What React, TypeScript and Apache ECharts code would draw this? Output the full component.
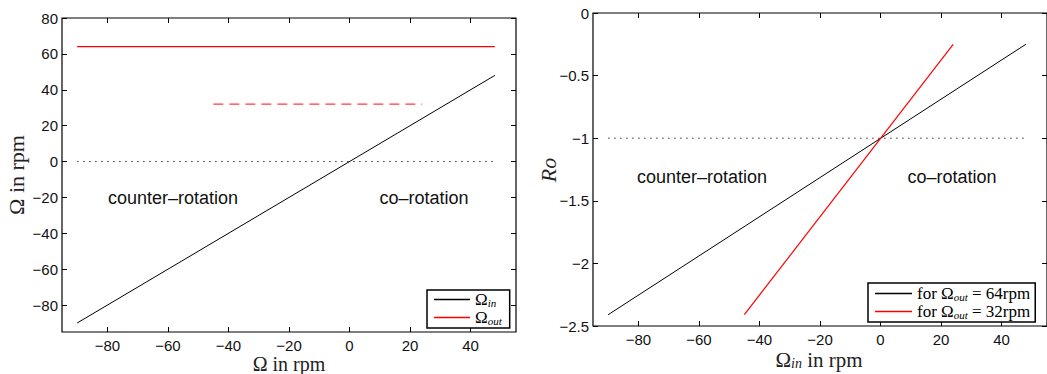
import React, { useEffect, useRef } from "react";
import * as echarts from "echarts";

// ---------- data ----------
const xTickValues = [-80, -60, -40, -20, 0, 20, 40];
const leftYTickValues = [-80, -60, -40, -20, 0, 20, 40, 60, 80];
const rightYTickValues = [-2.5, -2, -1.5, -1, -0.5, 0];

// Ω_in sweep (full range for Ω_out = 64 rpm, half range for Ω_out = 32 rpm)
const omegaInFull = [-90, 48];
const omegaInHalf = [-45, 24];

// left panel
const omegaInLine = [-90, 48];
const omegaOut64 = [64, 64];
const omegaOut32 = [32, 32];
const zeroRef = [0, 0];

// right panel
const ro64 = [-2.41, -0.25];
const ro32 = [-2.41, -0.25];
const roRef = [-1, -1];

// ---------- helpers ----------
const SANS = "'Liberation Sans', Arial, Helvetica, sans-serif";
const SERIF = "'Liberation Serif', 'Times New Roman', serif";
const fmt = (v: number) => (v < 0 ? "\u2212" + String(Math.abs(v)) : String(v));
const pairs = (xs: number[], ys: number[]) => xs.map((x, i) => [x, ys[i]]);

const tickLabel = {
  fontSize: 15,
  lineHeight: 15,
  fontFamily: SANS,
  color: "#111",
  formatter: fmt,
};

function makeX(gridIndex: number) {
  return [
    {
      type: "value",
      gridIndex,
      min: -95,
      max: 55,
      position: "bottom",
      axisLine: { show: false, onZero: false },
      splitLine: { show: false },
      axisTick: { inside: true, length: 5, customValues: xTickValues, lineStyle: { color: "#000" } },
      axisLabel: { ...tickLabel, margin: 6, customValues: xTickValues },
    },
    {
      type: "value",
      gridIndex,
      min: -95,
      max: 55,
      position: "top",
      axisLine: { show: false, onZero: false },
      splitLine: { show: false },
      axisTick: { inside: true, length: 5, customValues: xTickValues, lineStyle: { color: "#000" } },
      axisLabel: { show: false },
    },
  ];
}

function makeY(gridIndex: number, min: number, max: number, ticks: number[]) {
  return [
    {
      type: "value",
      gridIndex,
      min,
      max,
      position: "left",
      axisLine: { show: false, onZero: false },
      splitLine: { show: false },
      axisTick: { inside: true, length: 5, customValues: ticks, lineStyle: { color: "#000" } },
      axisLabel: { ...tickLabel, margin: 4, customValues: ticks },
    },
    {
      type: "value",
      gridIndex,
      min,
      max,
      position: "right",
      axisLine: { show: false, onZero: false },
      splitLine: { show: false },
      axisTick: { inside: true, length: 5, customValues: ticks, lineStyle: { color: "#000" } },
      axisLabel: { show: false },
    },
  ];
}

const lineSeries = (
  name: string,
  data: number[][],
  xAxisIndex: number,
  yAxisIndex: number,
  lineStyle: any
) => ({
  type: "line",
  name,
  data,
  xAxisIndex,
  yAxisIndex,
  symbol: "none",
  showSymbol: false,
  silent: true,
  lineStyle,
  itemStyle: { color: lineStyle.color },
});

const legendRich = {
  o: { fontSize: 17, fontFamily: SERIF, color: "#000", lineHeight: 17 },
  s: {
    fontSize: 11,
    fontFamily: SERIF,
    fontStyle: "italic",
    color: "#000",
    verticalAlign: "bottom",
    lineHeight: 10,
  },
};

export default function App() {
  const ref = useRef<HTMLDivElement>(null);

  useEffect(() => {
    document.body.style.margin = "0";
    if (!ref.current) return;
    const chart = echarts.init(ref.current, null, { renderer: "svg" });

    const black = { color: "#000", width: 1 };
    const red = { color: "#ff0000", width: 1.2 };

    const legendBase = {
      orient: "vertical",
      icon: "rect",
      itemHeight: 1.3,
      itemGap: 1,
      borderColor: "#000",
      borderWidth: 1.5,
      borderRadius: 0,
      backgroundColor: "#fff",
      selectedMode: false,
      textStyle: { color: "#000", fontFamily: SERIF, fontSize: 17, rich: legendRich },
    };

    const option: any = {
      animation: false,
      backgroundColor: "#fff",
      grid: [
        { left: 62, top: 18, width: 454, height: 314, show: true, borderColor: "#000", borderWidth: 1.2, backgroundColor: "transparent" },
        { left: 593, top: 13, width: 454, height: 313, show: true, borderColor: "#000", borderWidth: 1.2, backgroundColor: "transparent" },
      ],
      xAxis: [...makeX(0), ...makeX(1)],
      yAxis: [
        ...makeY(0, -95, 80, leftYTickValues),
        ...makeY(1, -2.5, 0, rightYTickValues),
      ],
      legend: [
        {
          ...legendBase,
          left: 427,
          top: 290,
          data: ["Ωin", "Ωout"],
          itemWidth: 36,
          padding: [1, 8, 2, 7],
          formatter: (n: string) => (n === "Ωin" ? "{o|Ω}{s|in}" : "{o|Ω}{s|out}"),
        },
        {
          ...legendBase,
          left: 868,
          top: 283,
          data: ["for Ωout = 64rpm", "for Ωout = 32rpm"],
          itemWidth: 37,
          padding: [2, 5, 2, 7],
          formatter: (n: string) =>
            n.indexOf("64") >= 0
              ? "{o|for Ω}{s|out}{o| = 64rpm}"
              : "{o|for Ω}{s|out}{o| = 32rpm}",
        },
      ],
      series: [
        // left panel
        lineSeries("zero", pairs(omegaInFull, zeroRef), 0, 0, { color: "#333", width: 1, type: [1.5, 4.5] }),
        lineSeries("Ωin", pairs(omegaInFull, omegaInLine), 0, 0, black),
        lineSeries("Ωout", pairs(omegaInFull, omegaOut64), 0, 0, red),
        lineSeries("Ωout 32", pairs(omegaInHalf, omegaOut32), 0, 0, { color: "#ff3b3b", width: 1.2, type: [10, 6] }),
        // right panel
        lineSeries("Ro ref", pairs(omegaInFull, roRef), 2, 2, { color: "#333", width: 1, type: [1.5, 4.5] }),
        lineSeries("for Ωout = 64rpm", pairs(omegaInFull, ro64), 2, 2, black),
        lineSeries("for Ωout = 32rpm", pairs(omegaInHalf, ro32), 2, 2, red),
      ],
      graphic: [
        // annotations
        { type: "text", x: 173, y: 198, style: { text: "counter–rotation", font: `18px ${SANS}`, fill: "#111", align: "center", verticalAlign: "middle" } },
        { type: "text", x: 424, y: 198, style: { text: "co–rotation", font: `18px ${SANS}`, fill: "#111", align: "center", verticalAlign: "middle" } },
        { type: "text", x: 702, y: 177, style: { text: "counter–rotation", font: `18px ${SANS}`, fill: "#111", align: "center", verticalAlign: "middle" } },
        { type: "text", x: 952, y: 177, style: { text: "co–rotation", font: `18px ${SANS}`, fill: "#111", align: "center", verticalAlign: "middle" } },
        // axis titles
        { type: "text", x: 289, y: 364, style: { text: "Ω in rpm", font: `20px ${SERIF}`, fill: "#222", align: "center", verticalAlign: "middle" } },
        { type: "text", x: 16, y: 175, rotation: Math.PI / 2, style: { text: "Ω in rpm", font: `22px ${SERIF}`, fill: "#222", align: "center", verticalAlign: "middle" } },
        {
          type: "text",
          x: 819,
          y: 360,
          style: {
            text: "{o|Ω}{s|in}{o| in rpm}",
            align: "center",
            verticalAlign: "middle",
            rich: {
              o: { font: `21px ${SERIF}`, fill: "#222", lineHeight: 21 },
              s: { font: `italic 14px ${SERIF}`, fill: "#222", verticalAlign: "bottom", lineHeight: 13 },
            },
          },
        },
        { type: "text", x: 548, y: 170, rotation: Math.PI / 2, style: { text: "Ro", font: `italic 22px ${SERIF}`, fill: "#222", align: "center", verticalAlign: "middle" } },
      ],
    };

    chart.setOption(option);
    return () => chart.dispose();
  }, []);

  return <div ref={ref} style={{ width: 1047, height: 374 }} />;
}
